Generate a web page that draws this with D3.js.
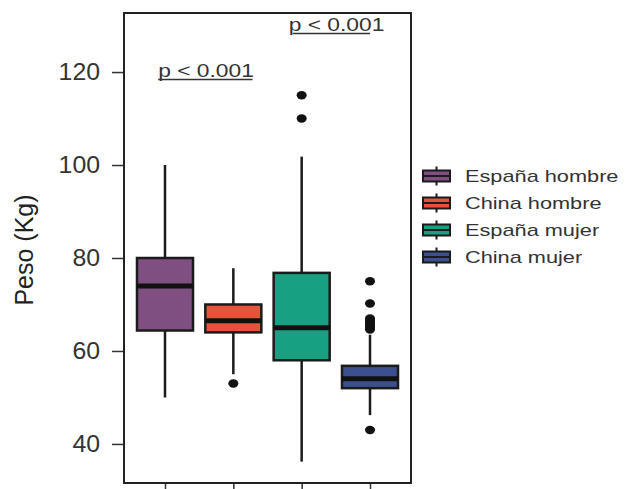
<!DOCTYPE html>
<html>
<head>
<meta charset="utf-8">
<script src="https://cdn.jsdelivr.net/npm/d3@7"></script>
<style>
  html, body { margin: 0; padding: 0; background: #fff; }
  svg { display: block; }
  text { font-family: "Liberation Sans", Arial, sans-serif; }
</style>
</head>
<body>
<svg id="chart" width="630" height="489"></svg>
<script>
// ---- data ----
const categories = ["España hombre", "China hombre", "España mujer", "China mujer"];
const colors = ["#7E4F80", "#E5533B", "#17A081", "#3C4F8E"];
const q1 = [64.4, 64.0, 58.0, 52.0];
const medians = [74.0, 66.5, 65.0, 54.0];
const q3 = [80.0, 70.0, 76.8, 56.8];
const whiskerLow = [50.0, 55.0, 36.2, 46.2];
const whiskerHigh = [100.0, 77.8, 101.8, 63.5];
const outliers = [
  [],
  [53.0],
  [110.0, 115.0],
  [43.0, 64.6, 65.0, 65.4, 65.8, 66.2, 66.6, 67.0, 70.2, 75.0]
];
const yTicks = [40, 60, 80, 100, 120];
const yLabel = "Peso (Kg)";
// significance annotations (x in group units, y in kg)
const pLabels = ["p < 0.001", "p < 0.001"];
const pTextX = [0.9, 2.81];
const pLineX0 = [0.9, 2.87];
const pLineX1 = [2.28, 4.0];
const pLineY = [118.4, 128.3];

(function () {
// ---- layout ----
const svg = d3.select("#chart");
const pLeft = 124, pRight = 411, pTop = 13, pBottom = 483;
const x = d3.scaleLinear().domain([0.4, 4.6]).range([pLeft, pRight]);
const y = d3.scaleLinear().domain([31.6, 132.7]).range([pBottom, pTop]);
const halfW = 0.41;
const ink = "#1b1b1b";

// y axis
const yAxis = svg.append("g").attr("transform", `translate(${pLeft},0)`)
  .call(d3.axisLeft(y).tickValues(yTicks).tickSize(12).tickPadding(12));
yAxis.select(".domain").remove();
yAxis.selectAll(".tick line").attr("stroke", "#333").attr("stroke-width", 1.5);
yAxis.selectAll(".tick text")
  .attr("font-size", 23).attr("fill", "#333")
  .attr("font-family", "'Liberation Sans', Arial, sans-serif")
  .attr("x", 0)
  .attr("transform", "translate(-24,0) scale(1.08,1)");

// x axis ticks (no labels)
const xAxis = svg.append("g").attr("transform", `translate(0,${pBottom})`)
  .call(d3.axisBottom(x).tickValues(d3.range(1, categories.length + 1)).tickSize(10).tickFormat(""));
xAxis.select(".domain").remove();
xAxis.selectAll(".tick line").attr("stroke", "#333").attr("stroke-width", 1.5);

// y label
svg.append("text")
  .attr("transform", `translate(33,250) rotate(-90)`)
  .attr("text-anchor", "middle")
  .attr("font-size", 25).attr("fill", "#222")
  .text(yLabel);

// boxes
const groups = svg.append("g").selectAll("g.box")
  .data(categories.map((c, i) => ({c, i, pos: i + 1})))
  .join("g").attr("class", "box");

groups.append("line")
  .attr("x1", d => x(d.pos)).attr("x2", d => x(d.pos))
  .attr("y1", d => y(whiskerHigh[d.i])).attr("y2", d => y(q3[d.i]))
  .attr("stroke", ink).attr("stroke-width", 2.5);
groups.append("line")
  .attr("x1", d => x(d.pos)).attr("x2", d => x(d.pos))
  .attr("y1", d => y(q1[d.i])).attr("y2", d => y(whiskerLow[d.i]))
  .attr("stroke", ink).attr("stroke-width", 2.5);
groups.append("rect")
  .attr("x", d => x(d.pos - halfW)).attr("width", d => x(d.pos + halfW) - x(d.pos - halfW))
  .attr("y", d => y(q3[d.i])).attr("height", d => y(q1[d.i]) - y(q3[d.i]))
  .attr("fill", d => colors[d.i]).attr("stroke", ink).attr("stroke-width", 2.5);
groups.append("line")
  .attr("x1", d => x(d.pos - halfW)).attr("x2", d => x(d.pos + halfW))
  .attr("y1", d => y(medians[d.i])).attr("y2", d => y(medians[d.i]))
  .attr("stroke", "#111").attr("stroke-width", 5);
groups.selectAll("ellipse")
  .data(d => outliers[d.i].map(v => ({v, pos: d.pos})))
  .join("ellipse")
  .attr("cx", d => x(d.pos)).attr("cy", d => y(d.v))
  .attr("rx", 5).attr("ry", 4.2).attr("fill", "#111");

// panel border
svg.append("rect")
  .attr("x", pLeft).attr("y", pTop).attr("width", pRight - pLeft).attr("height", pBottom - pTop)
  .attr("fill", "none").attr("stroke", "#222").attr("stroke-width", 2);

// significance annotations
pLabels.forEach((lab, i) => {
  svg.append("text")
    .attr("transform", `translate(${x(pTextX[i])},${y(pLineY[i]) - 2.5}) scale(1.2,1)`)
    .attr("font-size", 19).attr("fill", "#333")
    .text(lab);
  svg.append("line")
    .attr("x1", x(pLineX0[i])).attr("x2", x(pLineX1[i]))
    .attr("y1", y(pLineY[i])).attr("y2", y(pLineY[i]))
    .attr("stroke", "#333").attr("stroke-width", 1.5);
});

// legend
const legY0 = 176, legStep = 27, keyX = 423, keyW = 27, keyH = 11;
const leg = svg.append("g").selectAll("g.leg")
  .data(categories.map((c, i) => ({c, i})))
  .join("g").attr("class", "leg")
  .attr("transform", d => `translate(0,${legY0 + d.i * legStep})`);
leg.append("line")
  .attr("x1", keyX + keyW / 2).attr("x2", keyX + keyW / 2)
  .attr("y1", -keyH / 2 - 4).attr("y2", keyH / 2 + 4)
  .attr("stroke", ink).attr("stroke-width", 2);
leg.append("rect")
  .attr("x", keyX).attr("y", -keyH / 2).attr("width", keyW).attr("height", keyH)
  .attr("fill", d => colors[d.i]).attr("stroke", ink).attr("stroke-width", 2);
leg.append("line")
  .attr("x1", keyX).attr("x2", keyX + keyW)
  .attr("y1", 0).attr("y2", 0)
  .attr("stroke", ink).attr("stroke-width", 2);
leg.append("text")
  .attr("transform", "translate(465,0) scale(1.36,1)")
  .attr("dy", "0.36em")
  .attr("font-size", 16).attr("fill", "#333")
  .text(d => d.c);
})();
</script>
</body>
</html>
